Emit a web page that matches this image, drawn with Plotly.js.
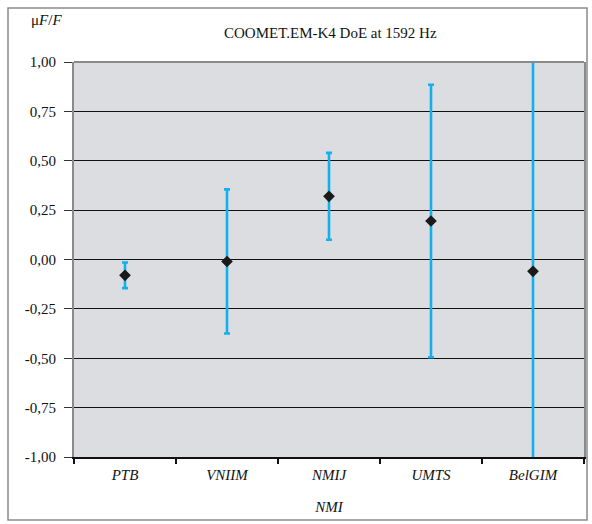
<!DOCTYPE html>
<html>
<head>
<meta charset="utf-8">
<script src="https://cdn.plot.ly/plotly-3.0.1.min.js"></script>
<style>html,body{margin:0;padding:0;background:#fff;}</style>
</head>
<body>
<div id="chart" style="width:592px;height:524px;"></div>
<script>
const categories = ["PTB", "VNIIM", "NMIJ", "UMTS", "BelGIM"];
const doeValues = [-0.08, -0.01, 0.32, 0.195, -0.06];
const expandedUnc = [0.065, 0.365, 0.22, 0.69, 1.25];
const yTickVals = [1, 0.75, 0.5, 0.25, 0, -0.25, -0.5, -0.75, -1];
const yTickText = ["1,00", "0,75", "0,50", "0,25", "0,00", "-0,25", "-0,50", "-0,75", "-1,00"];

const serif = "Liberation Serif";

const trace = {
  type: "scatter",
  mode: "markers",
  x: categories,
  y: doeValues,
  marker: {symbol: "diamond", size: 9, color: "#1a1a1a"},
  error_y: {type: "data", array: expandedUnc, visible: true, color: "#12b0ee", thickness: 2.6, width: 3},
  showlegend: false,
  hoverinfo: "none"
};

const layout = {
  width: 592, height: 524,
  margin: {l: 74, r: 8, t: 62, b: 67},
  paper_bgcolor: "#ffffff",
  plot_bgcolor: "#dcdde0",
  font: {family: serif, size: 15, color: "#111"},
  xaxis: {
    type: "category",
    tickvals: categories,
    ticktext: categories.map(c => "<i>" + c + "</i>"),
    tickson: "boundaries",
    ticks: "outside", ticklen: 5, tickcolor: "#111", tickwidth: 1.5,
    ticklabelstandoff: 3,
    showgrid: false,
    showline: true, linecolor: "#111", linewidth: 1.5,
    range: [-0.5, 4.5],
    tickfont: {family: serif, size: 15},
    title: {text: "<i>NMI</i>", font: {family: serif, size: 15}, standoff: 20},
    fixedrange: true
  },
  yaxis: {
    range: [-1, 1],
    tickvals: yTickVals,
    ticktext: yTickText,
    ticks: "outside", ticklen: 8, tickcolor: "#333", tickwidth: 1,
    ticklabelstandoff: 5,
    showgrid: true, gridcolor: "#111", gridwidth: 1,
    zeroline: false,
    showline: true, linecolor: "#8a8a8a", linewidth: 2, mirror: true,
    tickfont: {family: serif, size: 15},
    fixedrange: true
  },
  shapes: [
    {type: "rect", xref: "paper", yref: "paper", x0: -0.1294, x1: 1.0059, y0: -0.1595, y1: 1.1367,
     line: {color: "#8a8a8a", width: 1.5}, fillcolor: "rgba(0,0,0,0)"},
    {type: "line", xref: "paper", yref: "paper", x0: 0, x1: 1, y0: 1, y1: 1,
     line: {color: "#8a8a8a", width: 2}, layer: "above"}
  ],
  annotations: [
    {text: "COOMET.EM-K4 DoE at 1592 Hz", xref: "paper", yref: "paper", x: (330 - 74) / 510, y: 1.0 + (62 - 33) / 395,
     xanchor: "center", yanchor: "middle", showarrow: false, font: {family: serif, size: 15}},
    {text: "\u03bc<i>F</i>/<i>F</i>", xref: "paper", yref: "paper", x: (46 - 74) / 510, y: 1.0 + (62 - 20) / 395,
     xanchor: "center", yanchor: "middle", showarrow: false, font: {family: serif, size: 15}}
  ]
};

Plotly.newPlot("chart", [trace], layout, {displayModeBar: false, staticPlot: true});
</script>
</body>
</html>
